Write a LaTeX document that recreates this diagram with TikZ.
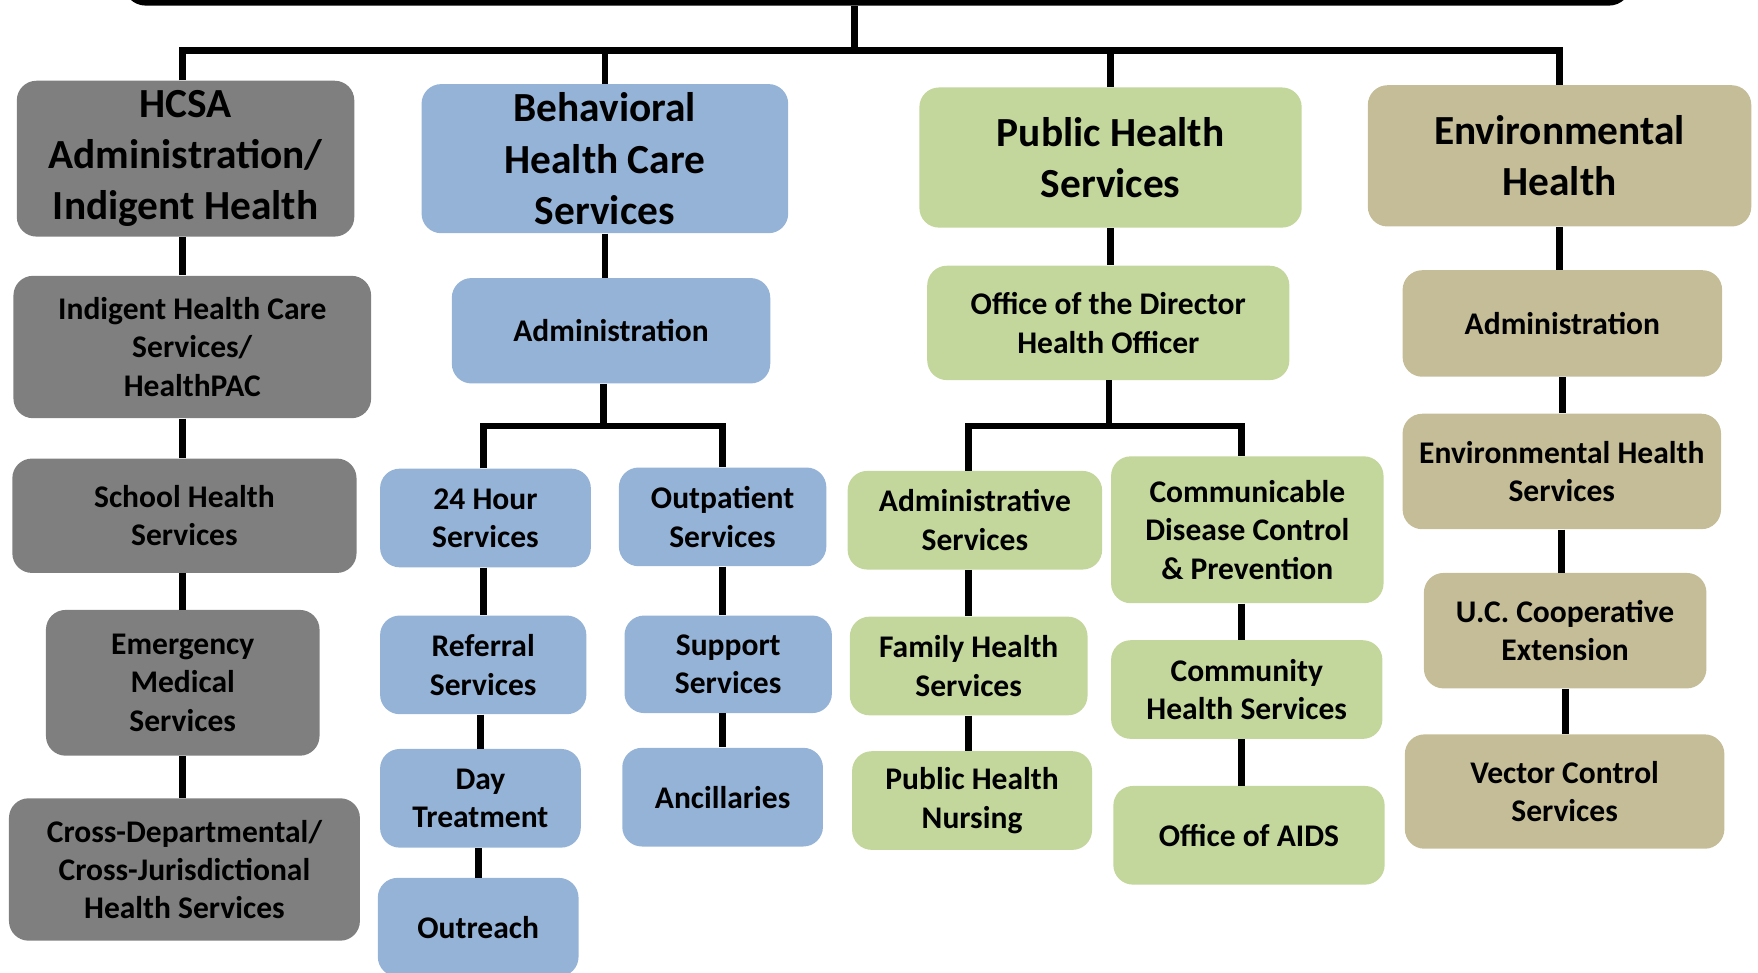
\documentclass[tikz,border=0pt]{standalone}
\usepackage{fontspec}
\setmainfont{Carlito}
\usepackage{tikz}

\definecolor{hcsagray}{HTML}{7F7F7F}
\definecolor{bhblue}{HTML}{95B3D7}
\definecolor{phgreen}{HTML}{C3D69B}
\definecolor{ehtan}{HTML}{C4BD97}

\begin{document}
\begin{tikzpicture}[
	unit/.style={rounded corners=0.35cm, align=center, inner sep=0pt,
		font=\bfseries\fontsize{16}{19.5}\selectfont},
	head/.style={unit, font=\bfseries\fontsize{21}{26}\selectfont},
	hcsabox/.style={fill=hcsagray},
	bhbox/.style={fill=bhblue},
	phbox/.style={fill=phgreen},
	ehbox/.style={fill=ehtan},
	link/.style={line width=3.4pt}]
				\useasboundingbox (0,0) rectangle (31.36,-17.34);
				% agency box, cut off at the top
				\node[fill=black, rounded corners=0.4cm, inner sep=0pt, minimum width=26.9cm, minimum height=2cm] (dir) at (15.65,0.9) {};
				% HCSA column
				\node[head, hcsabox, minimum width=6.02cm, minimum height=2.78cm] (hcsa) at (3.31,-2.83) {HCSA\\Administration/\\Indigent Health};
				\node[unit, hcsabox, minimum width=6.38cm, minimum height=2.54cm] (indig) at (3.43,-6.19) {Indigent Health Care\\Services/\\HealthPAC};
				\node[unit, hcsabox, minimum width=6.14cm, minimum height=2.04cm] (school) at (3.29,-9.20) {School Health\\Services};
				\node[unit, hcsabox, minimum width=4.88cm, minimum height=2.60cm] (ems) at (3.26,-12.18) {Emergency\\Medical\\Services};
				\node[unit, hcsabox, minimum width=6.26cm, minimum height=2.54cm] (cross) at (3.29,-15.51) {Cross-Departmental/\\Cross-Jurisdictional\\Health Services};
				% behavioral health column
				\node[head, bhbox, minimum width=6.54cm, minimum height=2.66cm] (bhcs) at (10.79,-2.83) {Behavioral\\Health Care\\Services};
				\node[unit, bhbox, minimum width=5.68cm, minimum height=1.88cm] (badm) at (10.90,-5.90) {Administration};
				\node[unit, bhbox, minimum width=3.76cm, minimum height=1.76cm] (hour) at (8.66,-9.24) {24 Hour\\Services};
				\node[unit, bhbox, minimum width=3.70cm, minimum height=1.76cm] (outp) at (12.89,-9.22) {Outpatient\\Services};
				\node[unit, bhbox, minimum width=3.68cm, minimum height=1.76cm] (refer) at (8.62,-11.86) {Referral\\Services};
				\node[unit, bhbox, minimum width=3.70cm, minimum height=1.74cm] (supp) at (12.99,-11.85) {Support\\Services};
				\node[unit, bhbox, minimum width=3.58cm, minimum height=1.76cm] (day) at (8.57,-14.24) {Day\\Treatment};
				\node[unit, bhbox, minimum width=3.58cm, minimum height=1.76cm] (ancil) at (12.89,-14.22) {Ancillaries};
				\node[unit, bhbox, minimum width=3.58cm, minimum height=1.76cm] (outr) at (8.53,-16.54) {Outreach};
				% public health column
				\node[head, phbox, minimum width=6.82cm, minimum height=2.50cm] (phs) at (19.81,-2.81) {Public Health\\Services};
				\node[unit, phbox, minimum width=6.46cm, minimum height=2.04cm] (odir) at (19.77,-5.76) {Office of the Director\\Health Officer};
				\node[unit, phbox, minimum width=4.54cm, minimum height=1.76cm] (adms) at (17.39,-9.28) {Administrative\\Services};
				\node[unit, phbox, minimum width=4.86cm, minimum height=2.62cm] (cdcp) at (22.25,-9.45) {Communicable\\Disease Control\\\& Prevention};
				\node[unit, phbox, minimum width=4.24cm, minimum height=1.76cm] (fhs) at (17.28,-11.88) {Family Health\\Services};
				\node[unit, phbox, minimum width=4.84cm, minimum height=1.76cm] (chs) at (22.24,-12.30) {Community\\Health Services};
				\node[unit, phbox, minimum width=4.28cm, minimum height=1.76cm] (phn) at (17.34,-14.28) {Public Health\\Nursing};
				\node[unit, phbox, minimum width=4.84cm, minimum height=1.76cm] (aids) at (22.28,-14.90) {Office of AIDS};
				% environmental health column
				\node[head, ehbox, minimum width=6.84cm, minimum height=2.52cm] (envh) at (27.82,-2.78) {Environmental\\Health};
				\node[unit, ehbox, minimum width=5.70cm, minimum height=1.90cm] (eadm) at (27.87,-5.77) {Administration};
				\node[unit, ehbox, minimum width=5.68cm, minimum height=2.06cm] (ehs) at (27.86,-8.41) {Environmental Health\\Services};
				\node[unit, ehbox, minimum width=5.04cm, minimum height=2.06cm] (ucce) at (27.92,-11.25) {U.C. Cooperative\\Extension};
				\node[unit, ehbox, minimum width=5.70cm, minimum height=2.04cm] (vcs) at (27.91,-14.12) {Vector Control\\Services};
				% top level lines
				\coordinate (bus) at (15.24,-0.90);
				\draw[link] (bus |- dir.south) -- (bus);
				\draw[link] (ems |- hcsa.north) |- (bus) -| (envh.north);
				\draw[link] (bhcs.north) -- (bhcs.north |- bus);
				\draw[link] (phs.north) -- (phs.north |- bus);
				% HCSA lines
				\draw[link] (ems |- hcsa.south) -- (ems |- indig.north);
				\draw[link] (ems |- indig.south) -- (ems |- school.north);
				\draw[link] (ems |- school.south) -- (ems.north);
				\draw[link] (ems.south) -- (ems |- cross.north);
				% behavioral health lines
				\coordinate (bbus) at (10.76,-7.60);
				\draw[link] (bhcs.south) -- (bhcs.south |- badm.north);
				\draw[link] (bbus |- badm.south) -- (bbus);
				\draw[link] (refer |- hour.north) |- (bbus) -| (outp.north);
				\draw[link] (refer |- hour.south) -- (refer.north);
				\draw[link] (day |- refer.south) -- (day.north);
				\draw[link] (outr |- day.south) -- (outr.north);
				\draw[link] (outp.south) -- (outp.south |- supp.north);
				\draw[link] (outp |- supp.south) -- (outp |- ancil.north);
				% public health lines
				\coordinate (gbus) at (19.78,-7.60);
				\coordinate (gright) at (22.14,-7.60);
				\draw[link] (phs.south) -- (phs.south |- odir.north);
				\draw[link] (gbus |- odir.south) -- (gbus);
				\draw[link] (fhs |- adms.north) |- (gright) -- (gright |- cdcp.north);
				\draw[link] (fhs |- adms.south) -- (fhs.north);
				\draw[link] (fhs.south) -- (fhs |- phn.north);
				\draw[link] (gright |- cdcp.south) -- (gright |- chs.north);
				\draw[link] (gright |- chs.south) -- (gright |- aids.north);
				% environmental health lines
				\draw[link] (envh.south) -- (envh.south |- eadm.north);
				\draw[link] (eadm.south) -- (eadm.south |- ehs.north);
				\draw[link] (ehs.south) -- (ehs.south |- ucce.north);
				\draw[link] (ucce.south) -- (ucce.south |- vcs.north);
			\end{tikzpicture}
\end{document}
